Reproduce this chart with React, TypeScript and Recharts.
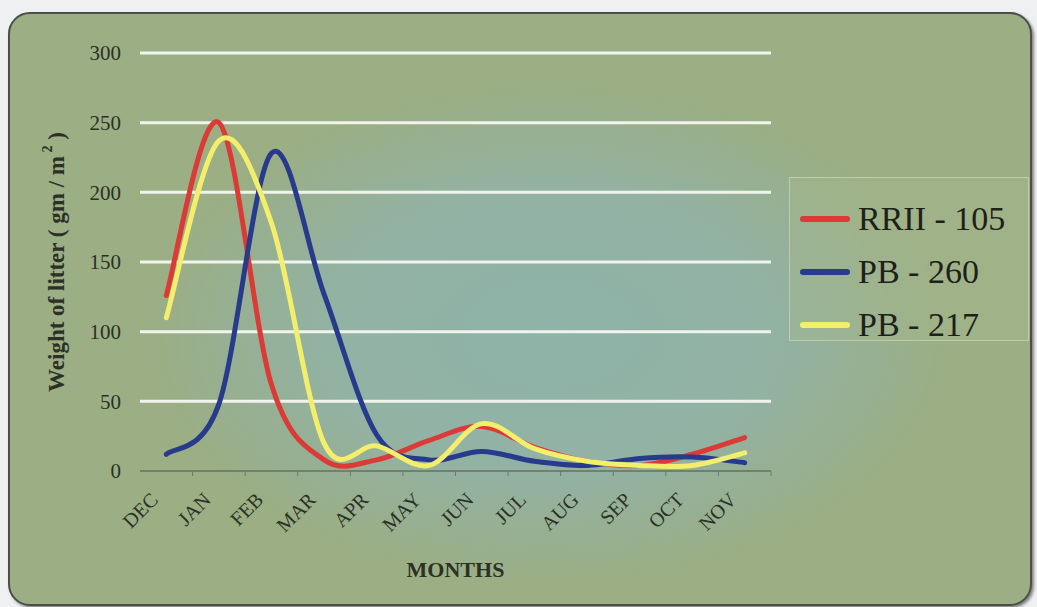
import React from 'react';
import { LineChart, Line, XAxis, YAxis, CartesianGrid, Legend } from 'recharts';

// Monthly litter fall, Dec -> Nov
const MONTHS = ['DEC', 'JAN', 'FEB', 'MAR', 'APR', 'MAY', 'JUN', 'JUL', 'AUG', 'SEP', 'OCT', 'NOV'];
const RRII_105 = [126, 250, 62, 8, 8, 22, 32, 17, 7, 4, 12, 24];
const PB_260 = [12, 48, 228, 127, 26, 8, 14, 7, 4, 9, 10, 6];
const PB_217 = [110, 237, 178, 20, 18, 4, 34, 16, 7, 4, 4, 13];
const Y_TICKS = [0, 50, 100, 150, 200, 250, 300];

const SERIES = [
  { key: 'rrii105', name: 'RRII - 105', color: '#db3a36', values: RRII_105 },
  { key: 'pb260', name: 'PB - 260', color: '#283a8c', values: PB_260 },
  { key: 'pb217', name: 'PB - 217', color: '#f3ee6c', values: PB_217 },
];

const data = MONTHS.map((month, i) => {
  const row: Record<string, string | number> = { month };
  SERIES.forEach(s => { row[s.key] = s.values[i]; });
  return row;
});

const W = 1037;
const H = 607;
const PLOT_LEFT = 140;
const PLOT_RIGHT = 771;
const STEP = (PLOT_RIGHT - PLOT_LEFT) / MONTHS.length;
const SERIF = '"Liberation Serif", "Times New Roman", serif';
const INK = '#2b3125';

// Excel-style smoothed line (uniform Catmull-Rom through every point)
const catmullRom = (context: any) => {
  let pts: [number, number][] = [];
  return {
    areaStart() {},
    areaEnd() {},
    lineStart() { pts = []; },
    point(x: number, y: number) { pts.push([+x, +y]); },
    lineEnd() {
      if (!pts.length) return;
      context.moveTo(pts[0][0], pts[0][1]);
      for (let i = 0; i < pts.length - 1; i++) {
        const p0 = pts[Math.max(i - 1, 0)];
        const p1 = pts[i];
        const p2 = pts[i + 1];
        const p3 = pts[Math.min(i + 2, pts.length - 1)];
        context.bezierCurveTo(
          p1[0] + (p2[0] - p0[0]) / 6, p1[1] + (p2[1] - p0[1]) / 6,
          p2[0] - (p3[0] - p1[0]) / 6, p2[1] - (p3[1] - p1[1]) / 6,
          p2[0], p2[1]
        );
      }
    },
  };
};

const MonthTick = (props: any) => {
  const { x, y, payload } = props;
  return (
    <g>
      <line x1={x + STEP / 2} x2={x + STEP / 2} y1={y} y2={y + 5} stroke="#6d7866" strokeWidth={1} />
      <text
        x={x - 7}
        y={y + 30}
        transform={`rotate(-45, ${x - 7}, ${y + 30})`}
        textAnchor="end"
        fill={INK}
        fontSize={20}
        fontFamily={SERIF}
      >
        {payload.value}
      </text>
    </g>
  );
};

const LegendBox = () => (
  <div
    style={{
      width: 240,
      height: 164,
      boxSizing: 'border-box',
      border: '1px solid rgba(215,225,195,0.55)',
      background: 'rgba(170,186,140,0.35)',
      paddingTop: 14,
    }}
  >
    {SERIES.map(s => (
      <div key={s.key} style={{ display: 'flex', alignItems: 'center', height: 53 }}>
        <div style={{ width: 50, height: 6, borderRadius: 3, background: s.color, marginLeft: 10, marginRight: 8 }} />
        <span style={{ fontFamily: SERIF, fontSize: 34, color: '#1d2119', lineHeight: 1 }}>{s.name}</span>
      </div>
    ))}
  </div>
);

export default function App() {
  return (
    <div style={{ position: 'fixed', left: 0, top: 0, width: W, height: H, background: '#eef0f1', overflow: 'hidden' }}>
      {/* rounded panel behind the chart */}
      <div
        style={{
          position: 'absolute',
          left: 8,
          top: 12,
          width: 1024,
          height: 594,
          boxSizing: 'border-box',
          borderRadius: 22,
          border: '2px solid #4b4f48',
          boxShadow: '2px 2px 3px rgba(0,0,0,0.45)',
          background:
            'radial-gradient(ellipse 400px 250px at 540px 320px, #8fb3a8 0%, #92b2a4 55%, rgba(155,174,132,0) 100%), #9bae84',
        }}
      />
      <div style={{ position: 'absolute', left: 0, top: 0 }}>
        <LineChart width={W} height={H} data={data} margin={{ top: 53, right: W - PLOT_RIGHT, bottom: 0, left: 0 }}>
          <CartesianGrid vertical={false} horizontalValues={Y_TICKS.slice(1)} stroke="#f1f4ec" strokeWidth={3} />
          <XAxis
            dataKey="month"
            height={136}
            padding={{ left: STEP / 2, right: STEP / 2 }}
            interval={0}
            tickLine={false}
            tickSize={0}
            tickMargin={0}
            axisLine={{ stroke: '#66705f', strokeWidth: 1.5 }}
            tick={<MonthTick />}
            label={(p: any) => (
              <text
                x={p.viewBox.x + p.viewBox.width / 2}
                y={p.viewBox.y + 106}
                textAnchor="middle"
                fill={INK}
                fontFamily={SERIF}
                fontWeight="bold"
                fontSize={22}
              >
                MONTHS
              </text>
            )}
          />
          <YAxis
            width={PLOT_LEFT}
            domain={[0, 300]}
            ticks={Y_TICKS}
            interval={0}
            axisLine={false}
            tickLine={false}
            tickSize={10}
            tickMargin={9}
            tick={{ fill: INK, fontSize: 21, fontFamily: SERIF }}
            label={(p: any) => {
              const cx = 59;
              const cy = p.viewBox.y + p.viewBox.height / 2;
              return (
                <text
                  transform={`translate(${cx}, ${cy}) rotate(-90)`}
                  textAnchor="middle"
                  dominantBaseline="middle"
                  fill={INK}
                  fontFamily={SERIF}
                  fontWeight="bold"
                  fontSize={23}
                >
                  Weight of litter ( gm / m
                  <tspan dy={-10} fontSize={14}> 2</tspan>
                  <tspan dy={10}> )</tspan>
                </text>
              );
            }}
          />
          {SERIES.map(s => (
            <Line
              key={s.key}
              dataKey={s.key}
              name={s.name}
              type={catmullRom as any}
              stroke={s.color}
              strokeWidth={5}
              strokeLinecap="round"
              dot={false}
              activeDot={false}
              isAnimationActive={false}
            />
          ))}
          <Legend
            layout="horizontal"
            verticalAlign="middle"
            align="center"
            wrapperStyle={{ left: 789, top: 177, width: 240, height: 164 }}
            content={() => <LegendBox />}
          />
        </LineChart>
      </div>
    </div>
  );
}
